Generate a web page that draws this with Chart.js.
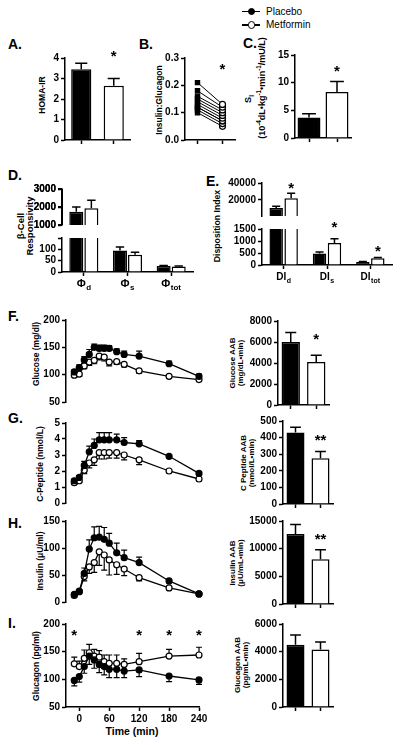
<!DOCTYPE html>
<html><head><meta charset="utf-8">
<script src="https://cdn.jsdelivr.net/npm/chart.js"></script>
<style>
html,body{margin:0;padding:0;background:#fff;}
#wrap{position:relative;width:400px;height:745px;overflow:hidden;font-family:'Liberation Sans',Arial,sans-serif;color:#000;}
.t{position:absolute;white-space:nowrap;line-height:1;}
.rot{position:absolute;white-space:nowrap;transform:translate(-50%,-50%) rotate(-90deg);text-align:center;font-weight:bold;}
sub,sup{font-size:70%;line-height:0;}
</style></head><body><div id="wrap"></div>
<script>
// ---------------- DATA ----------------
const groups = ['Placebo', 'Metformin'];

const homaIR = [3.45, 2.65];
const homaErr = [0.3, 0.35];

const ratioPlacebo   = [0.21, 0.18, 0.16, 0.15, 0.14, 0.13, 0.12, 0.12, 0.11, 0.10];
const ratioMetformin = [0.13, 0.12, 0.11, 0.10, 0.09, 0.08, 0.07, 0.07, 0.06, 0.05];

const siVals = [3.7, 8.3];
const siErr = [0.7, 1.9];

const phiLabels = [['Φ','d'], ['Φ','s'], ['Φ','tot']];
const phiTopTicks = [1000, 2000, 3000];
const phiPlacebo = [1730, 95, 27];
const phiPlaceboErr = [270, 15, 2];
const phiMetformin = [1930, 76, 24];
const phiMetforminErr = [440, 11, 2];

const diLabels = [['DI','d'], ['DI','s'], ['DI','tot']];
const diTopTicks = [20000, 40000];
const diLowTicks = [0, 500, 1000, 1500];
const diPlacebo = [10500, 480, 130];
const diPlaceboErr = [2000, 60, 20];
const diMetformin = [22000, 920, 280];
const diMetforminErr = [6000, 170, 30];

const times = [-10, 0, 10, 20, 30, 40, 50, 60, 75, 90, 120, 180, 240];
const timeTicks = [0, 60, 120, 180, 240];

const gluP    = [105, 113, 127, 137, 150, 148, 148, 148, 142, 137, 134, 120, 97];
const gluPErr = [4, 5, 6, 9, 6, 6, 6, 5, 5, 6, 9, 5, 4];
const gluM    = [99, 101, 116, 123, 126, 134, 132, 123, 124, 119, 107, 97, 91];
const gluMErr = [3, 4, 5, 6, 6, 7, 7, 7, 5, 5, 4, 4, 3];

const cpP    = [1.39, 1.6, 2.35, 3.2, 3.6, 3.95, 3.95, 3.95, 3.95, 3.78, 3.7, 2.92, 1.85];
const cpPErr = [0.1, 0.1, 0.25, 0.35, 0.4, 0.45, 0.45, 0.45, 0.35, 0.3, 0.2, 0.1, 0.1];
const cpM    = [1.27, 1.39, 2.04, 2.5, 2.7, 3.15, 3.15, 3.15, 3.15, 3.0, 2.7, 2.0, 1.5];
const cpMErr = [0.1, 0.1, 0.2, 0.3, 0.35, 0.4, 0.4, 0.35, 0.35, 0.3, 0.3, 0.1, 0.1];

const insP    = [14, 20, 53, 98, 119, 120, 116, 109, 91, 82, 73, 39, 15];
const insPErr = [2, 3, 10, 17, 20, 20, 22, 18, 18, 14, 10, 3, 2];
const insM    = [12, 19, 47, 65, 73, 93, 87, 78, 69, 61, 45, 26, 15];
const insMErr = [2, 3, 8, 12, 18, 25, 28, 28, 18, 12, 6, 3, 2];

const gcgP    = [98, 105, 123, 142, 135, 127, 123, 118, 118, 115, 117, 106, 99];
const gcgPErr = [10, 10, 12, 15, 15, 15, 15, 15, 15, 12, 12, 10, 8];
const gcgM    = [128, 123, 138, 148, 142, 140, 132, 129, 129, 127, 132, 142, 144];
const gcgMErr = [12, 10, 15, 15, 12, 12, 12, 15, 15, 10, 15, 12, 14];

const gluAAB = [6000, 4100], gluAABErr = [900, 650];
const cpAAB  = [430, 276],   cpAABErr  = [32, 40];
const insAAB = [12650, 8100], insAABErr = [1700, 1700];
const gcgAAB = [4500, 4150], gcgAABErr = [700, 550];

// ---------------- SETUP ----------------
const FAM = "'Liberation Sans', Arial, Helvetica, sans-serif";
const TICK = 10;
Chart.defaults.font.family = FAM;
Chart.defaults.font.size = TICK;
Chart.defaults.font.weight = 'bold';
Chart.defaults.color = '#000';
Chart.defaults.animation = false;
Chart.defaults.events = [];
Chart.defaults.plugins.legend.display = false;
Chart.defaults.plugins.tooltip.enabled = false;

const wrap = document.getElementById('wrap');

const errPlugin = {
  id: 'errbars',
  beforeDatasetsDraw(chart, args, o) {
    const ctx = chart.ctx; ctx.save();
    if (o && o.clip) {
      const a = chart.chartArea; ctx.beginPath(); ctx.rect(a.left, a.top, a.right - a.left, a.bottom - a.top); ctx.clip();
    }
    chart.data.datasets.forEach((ds, di) => {
      if (!ds.err) return;
      const meta = chart.getDatasetMeta(di); const ys = chart.scales[meta.yAxisID];
      meta.data.forEach((el, i) => {
        const v = ds.data[i]; if (v === null) return;
        const val = (typeof v === 'object') ? v.y : v;
        const e = ds.err[i]; const dir = ds.errDir || 1;
        const x = el.x; const y0 = ys.getPixelForValue(val); const y1 = ys.getPixelForValue(val + dir * e);
        const cw = el.width ? el.width * 0.3 : 3;
        ctx.strokeStyle = '#000'; ctx.lineWidth = ds.errW || 1.5;
        ctx.beginPath(); ctx.moveTo(x, y0); ctx.lineTo(x, y1); ctx.moveTo(x - cw, y1); ctx.lineTo(x + cw, y1); ctx.stroke();
      });
    });
    ctx.restore();
  }
};

const starPlugin = {
  id: 'stars',
  afterDatasetsDraw(chart, args, o) {
    if (!o || !o.items) return;
    const ctx = chart.ctx; ctx.save(); ctx.fillStyle = '#000'; ctx.textAlign = 'center'; ctx.textBaseline = 'alphabetic';
    const fs = o.size || 15; ctx.font = `bold ${fs}px ${FAM}`;
    o.items.forEach(it => {
      const x = (it.ds !== undefined) ? chart.getDatasetMeta(it.ds).data[it.i].x : chart.scales.x.getPixelForValue(it.x);
      const y = chart.scales.y.getPixelForValue(it.y);
      ctx.fillText(it.text, x, y + fs * 0.55);
    });
    ctx.restore();
  }
};

const catPlugin = {
  id: 'cats',
  afterDraw(chart, args, o) {
    if (!o || !o.labels) return;
    const ctx = chart.ctx; const xs = chart.scales.x; const yb = chart.chartArea.bottom + o.dy;
    ctx.save(); ctx.fillStyle = '#000'; ctx.textBaseline = 'alphabetic'; ctx.textAlign = 'left';
    const F1 = `bold ${o.size}px ${FAM}`, F2 = `bold ${o.subSize}px ${FAM}`;
    o.labels.forEach((lb, i) => {
      ctx.font = F1; const w1 = ctx.measureText(lb[0]).width;
      ctx.font = F2; const w2 = ctx.measureText(lb[1]).width;
      const x = xs.getPixelForValue(i) - (w1 + w2 + 0.5) / 2;
      ctx.font = F1; ctx.fillText(lb[0], x, yb);
      ctx.font = F2; ctx.fillText(lb[1], x + w1 + 0.5, yb + o.subDy);
    });
    ctx.restore();
  }
};

function mk(area, pad, cfg) {
  const [x0, y0, x1, y1] = area; const [L, T, R, B] = pad;
  const w = x1 - x0 + L + R, h = y1 - y0 + T + B;
  const c = document.createElement('canvas');
  c.width = w; c.height = h;
  c.style.cssText = `position:absolute;left:${x0 - L}px;top:${y0 - T}px;width:${w}px;height:${h}px;`;
  wrap.appendChild(c);
  cfg.options = cfg.options || {};
  const sc = cfg.options.scales;
  const xShown = sc.x.display !== false;
  sc.y.afterFit = s => { s.width = L; };
  if (xShown) sc.x.afterFit = s => { s.height = B; };
  cfg.options.responsive = false;
  cfg.options.maintainAspectRatio = false;
  cfg.options.devicePixelRatio = 1;
  cfg.options.layout = { padding: { left: 0, top: T, right: R, bottom: xShown ? 0 : B } };
  cfg.plugins = [errPlugin, starPlugin, catPlugin];
  const ch = new Chart(c, cfg);
  ch._pageLeft = x0 - L; ch._pageTop = y0 - T;
  return ch;
}

function yAx(min, max, opts = {}) {
  const o = {
    type: 'linear', min, max,
    ticks: { stepSize: opts.step, padding: 2, autoSkip: false, color: '#000', font: { size: TICK, weight: 'bold' }, callback: opts.fmt || (v => String(v)) },
    grid: { drawOnChartArea: false, drawTicks: true, tickLength: 4, tickWidth: 1.5, color: '#000' },
    border: { display: true, color: '#000', width: 1.5 }
  };
  if (opts.ticks) o.afterBuildTicks = s => { s.ticks = opts.ticks.map(v => ({ value: v })); };
  return o;
}
function xCat(show = true) {
  return {
    type: 'category', offset: true, display: show,
    ticks: { display: false },
    grid: { offset: false, drawOnChartArea: false, drawTicks: true, tickLength: 4, tickWidth: 1.5, color: '#000' },
    border: { display: true, color: '#000', width: 1.5 }
  };
}
function xTime(show) {
  return {
    type: 'linear', min: -26.6, max: 240, display: show,
    afterBuildTicks: s => { s.ticks = timeTicks.map(v => ({ value: v })); },
    ticks: { padding: 2, color: '#000', font: { size: TICK, weight: 'bold' }, callback: v => String(v), autoSkip: false, maxRotation: 0 },
    grid: { drawOnChartArea: false, drawTicks: true, tickLength: 4, tickWidth: 1.5, color: '#000' },
    border: { display: true, color: '#000', width: 1.5 }
  };
}
function barDs(data, err, colors, extra = {}) {
  return Object.assign({ data, err, backgroundColor: colors, borderColor: '#000', borderWidth: 1.5 }, extra);
}
function lineDs(xs, ys, err, dir, fill) {
  return {
    data: xs.map((t, i) => ({ x: t, y: ys[i] })), err, errDir: dir, errW: 1.2,
    borderColor: '#000', borderWidth: 1.3, pointRadius: 3, pointBorderWidth: 1.2,
    pointBackgroundColor: fill, pointBorderColor: '#000', clip: false
  };
}

// ---------------- TEXT HELPERS ----------------
function txt(html, left, baseline, size, weight = 'bold') {
  const d = document.createElement('div'); d.className = 't';
  d.style.left = left + 'px'; d.style.top = (baseline - size * 0.85) + 'px';
  d.style.fontSize = size + 'px'; d.style.fontWeight = weight; d.innerHTML = html; wrap.appendChild(d);
}
function rot(html, cx, cy, size = 8.5, lh = 10) {
  const d = document.createElement('div'); d.className = 'rot';
  d.style.left = cx + 'px'; d.style.top = cy + 'px'; d.style.fontSize = size + 'px'; d.style.lineHeight = lh + 'px';
  d.innerHTML = html; wrap.appendChild(d);
}
function box(l, t, w, h, css) {
  const d = document.createElement('div'); d.style.cssText = `position:absolute;left:${l}px;top:${t}px;width:${w}px;height:${h}px;box-sizing:border-box;` + css;
  wrap.appendChild(d);
}

// legend
[[11.7, '#000', 'Placebo', 15], [25, '#fff', 'Metformin', 28.3]].forEach(([y, f, t, b]) => {
  box(242, y - 0.75, 18, 1.5, 'background:#000;');
  box(251.5 - 3.8, y - 3.8, 7.6, 7.6, `border:1.3px solid #000;border-radius:50%;background:${f};`);
  txt(t, 266, b, 10, 'normal');
});

// panel letters
[['A.', 8, 49], ['B.', 139, 49], ['C.', 243, 48], ['D.', 8, 180], ['E.', 206, 186],
 ['F.', 8, 321], ['G.', 8, 423], ['H.', 8, 528], ['I.', 8, 628]].forEach(([s, x, b]) => txt(s, x, b, 14));

// axis titles
rot('HOMA-IR', 41.5, 95);
rot('Insulin:Glucagon', 158.5, 100);
rot('S<sub>I</sub>', 248, 99, 9);
rot('(10<sup>-4</sup>dL•kg<sup>-1</sup>•min<sup>-1</sup>/mU/L)', 262, 88, 9);
rot('β-Cell', 21, 226, 9.5);
rot('Responsivity', 30, 226, 9.5);
rot('Disposition Index', 217, 226, 8.7);
rot('Glucose (mg/dl)', 35.5, 354);
rot('C-Peptide (nmol/L)', 39.5, 464);
rot('Insulin (μU/ml)', 39.5, 561);
rot('Glucagon (pg/ml)', 35.5, 666);
rot('Glucose AAB<br>(mg/dL•min)', 237, 363, 8, 8);
rot('C Peptide AAB<br>(nmol/L•min)', 248, 463, 8, 8);
rot('Insulin AAB<br>(μU/mL•min)', 237, 563, 8, 8);
rot('Glucagon AAB<br>(pg/mL•min)', 241.5, 665, 8, 8);
const tm = document.createElement('div'); tm.className = 't';
tm.style.cssText += 'left:132px;top:731px;transform:translate(-50%,-50%);font-size:10.5px;font-weight:bold;';
tm.textContent = 'Time (min)'; wrap.appendChild(tm);

// ---------------- CHARTS ----------------
// A
mk([65, 58, 130, 140], [35, 14, 6, 8], {
  type: 'bar',
  data: { labels: groups, datasets: [barDs(homaIR, homaErr, ['#000', '#fff'], { barPercentage: 0.62, categoryPercentage: 1 })] },
  options: { scales: { x: xCat(), y: yAx(0, 4, { step: 1 }) }, plugins: { stars: { items: [{ ds: 0, i: 1, y: 4.25, text: '*' }] } } }
});

// B
mk([185, 58, 235, 140], [35, 14, 6, 8], {
  type: 'line',
  data: {
    labels: groups,
    datasets: ratioPlacebo.map((p, k) => ({
      data: [p, ratioMetformin[k]], borderColor: '#000', borderWidth: 1, clip: false,
      pointStyle: ['rect', 'circle'], pointRadius: 3, pointBorderWidth: 1.2,
      pointBackgroundColor: ['#000', '#fff'], pointBorderColor: '#000'
    }))
  },
  options: {
    scales: { x: xCat(), y: yAx(0, 0.3, { step: 0.1, fmt: v => v.toFixed(1) }) },
    plugins: { stars: { items: [{ x: 1, y: 0.27, text: '*' }] } }
  }
});

// C
mk([295, 55, 351, 138], [35, 14, 6, 8], {
  type: 'bar',
  data: { labels: groups, datasets: [barDs(siVals, siErr, ['#000', '#fff'], { barPercentage: 0.82, categoryPercentage: 1 })] },
  options: { scales: { x: xCat(), y: yAx(0, 15, { step: 5 }) }, plugins: { stars: { items: [{ ds: 0, i: 1, y: 12.7, text: '*' }] } } }
});

// D (broken axis)
const above = (arr, lo) => arr.map(v => (v > lo ? v : null));
function dDatasets(lo) {
  return [
    barDs(above(phiPlacebo, lo), phiPlaceboErr, '#000', { categoryPercentage: 0.69, barPercentage: 0.93, clip: 0 }),
    barDs(above(phiMetformin, lo), phiMetforminErr, '#fff', { categoryPercentage: 0.69, barPercentage: 0.93, clip: 0 })
  ];
}
const phiCats = phiLabels.map(l => l.join(''));
const dTop = mk([62, 189, 193, 229], [40, 10, 6, 4], {
  type: 'bar', data: { labels: phiCats, datasets: dDatasets(1000) },
  options: {
    scales: { x: xCat(false), y: yAx(1000, 3000, { ticks: phiTopTicks }) },
    plugins: { errbars: { clip: true } }
  }
});
mk([62, 234, 193, 272], [34, 4, 6, 22], {
  type: 'bar', data: { labels: phiCats, datasets: dDatasets(-1) },
  options: {
    scales: { x: xCat(), y: yAx(0, 150, { ticks: [0, 50, 100, 150], fmt: v => (v === 150 ? '' : String(v)) }) },
    plugins: { errbars: { clip: true }, cats: { labels: phiLabels, size: 11, subSize: 8, dy: 15, subDy: 3 } }
  }
});

// E (broken axis)
function eDatasets(lo) {
  return [
    barDs(above(diPlacebo, lo), diPlaceboErr, '#000', { categoryPercentage: 0.69, barPercentage: 0.9, clip: 0 }),
    barDs(above(diMetformin, lo), diMetforminErr, '#fff', { categoryPercentage: 0.69, barPercentage: 0.9, clip: 0 })
  ];
}
const diCats = diLabels.map(l => l.join(''));
mk([262, 183, 392, 220], [40, 10, 6, 4], {
  type: 'bar', data: { labels: diCats, datasets: eDatasets(1000) },
  options: {
    scales: { x: xCat(false), y: yAx(1000, 40000, { ticks: diTopTicks }) },
    plugins: { errbars: { clip: true }, stars: { items: [{ ds: 1, i: 0, y: 37900, text: '*' }] } }
  }
});
mk([262, 227, 392, 265], [40, 6, 6, 22], {
  type: 'bar', data: { labels: diCats, datasets: eDatasets(-1) },
  options: {
    scales: { x: xCat(), y: yAx(0, 1500, { ticks: diLowTicks }) },
    plugins: {
      errbars: { clip: true },
      stars: { items: [{ ds: 1, i: 1, y: 1720, text: '*' }, { ds: 1, i: 2, y: 730, text: '*' }] },
      cats: { labels: diLabels, size: 10, subSize: 7, dy: 15, subDy: 3 }
    }
  }
});

// Time-course line charts
function timeChart(area, P, PE, M, ME, yopts, ymin, ymax, showX, pErrDir, mErrDir, stars) {
  return mk(area, [26, 10, 12, showX ? 16 : 6], {
    type: 'line',
    data: { datasets: [lineDs(times, P, PE, pErrDir, '#000'), lineDs(times, M, ME, mErrDir, '#fff')] },
    options: { scales: { x: xTime(showX), y: yAx(ymin, ymax, yopts) }, plugins: { stars: { items: stars || [] } } }
  });
}
timeChart([66, 320, 199, 404], gluP, gluPErr, gluM, gluMErr, { step: 50 }, 50, 200, false, 1, -1);
timeChart([66, 423, 199, 505], cpP, cpPErr, cpM, cpMErr, { step: 1 }, 0, 5, false, 1, -1);
timeChart([66, 521, 199, 604], insP, insPErr, insM, insMErr, { step: 50 }, 0, 150, false, 1, -1);
timeChart([66, 624, 199, 707], gcgP, gcgPErr, gcgM, gcgMErr, { step: 50 }, 50, 200, true, -1, 1,
  [-10, 120, 180, 240].map(t => ({ x: t, y: 185.5, text: '*' })));

// AAB bar charts
function aab(area, vals, errs, max, step, stars) {
  return mk(area, [34, 12, 8, 8], {
    type: 'bar',
    data: { labels: groups, datasets: [barDs(vals, errs, ['#000', '#fff'], { barPercentage: 0.72, categoryPercentage: 1 })] },
    options: { scales: { x: xCat(), y: yAx(0, max, { step }) }, plugins: { stars: { items: stars || [] } } }
  });
}
aab([278, 321, 329, 405], gluAAB, gluAABErr, 8000, 2000, [{ ds: 0, i: 1, y: 6570, text: '*' }]);
aab([283, 421, 333, 504], cpAAB, cpAABErr, 500, 100, [{ ds: 0, i: 1, y: 403, text: '**' }]);
aab([283, 521, 333, 604], insAAB, insAABErr, 15000, 5000, [{ ds: 0, i: 1, y: 12290, text: '**' }]);
aab([283, 624, 333, 707], gcgAAB, gcgAABErr, 6000, 2000);

// D upper-segment tick labels, placed on top of everything from the chart's own y scale
(function () {
  const ys = dTop.scales.y; const a = dTop.chartArea;
  const left = dTop._pageLeft + a.left, top0 = dTop._pageTop;
  box(left - 0.75, top0 + a.top, 1.5, a.bottom - a.top, 'background:#000;');
  phiTopTicks.forEach(v => {
    const y = top0 + ys.getPixelForValue(v);
    box(left - 4, y - 0.75, 4, 1.5, 'background:#000;');
    const d = document.createElement('div'); d.className = 't';
    d.style.cssText += `left:${left - 6}px;top:${y}px;transform:translate(-100%,-50%);font-size:${TICK}px;font-weight:bold;`;
    d.textContent = String(v); wrap.appendChild(d);
  });
})();
</script></body></html>
